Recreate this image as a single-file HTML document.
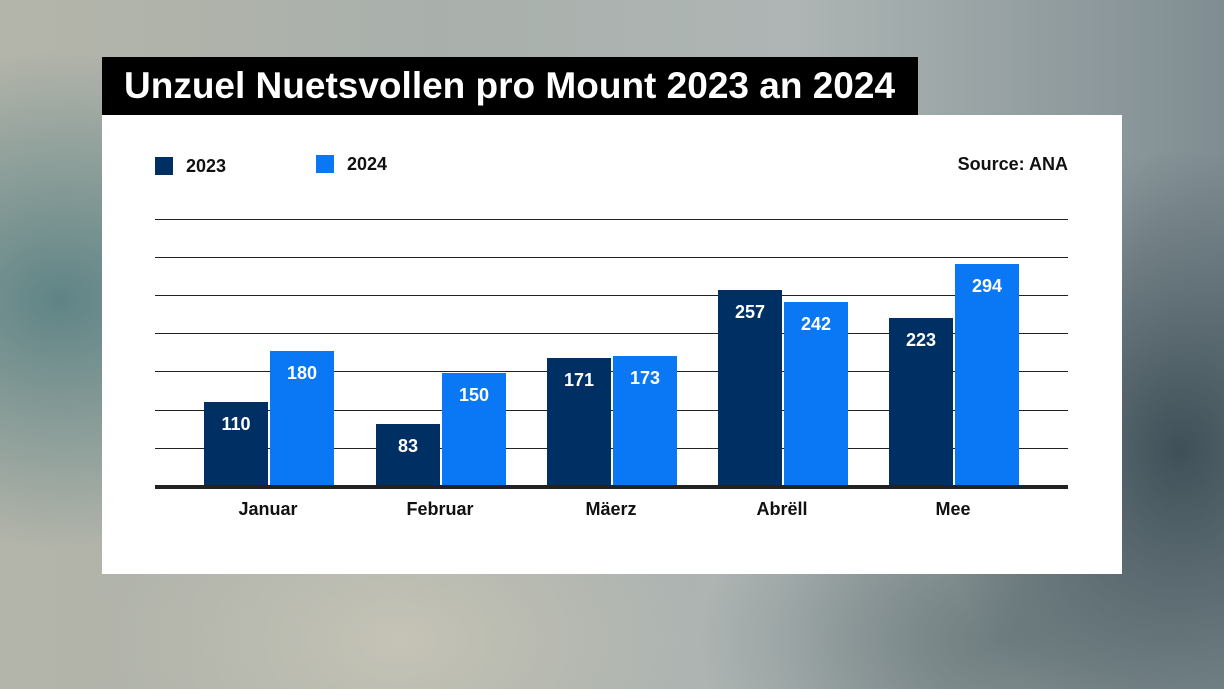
<!DOCTYPE html>
<html><head><meta charset="utf-8"><style>
html,body{margin:0;padding:0;}
body{width:1224px;height:689px;position:relative;overflow:hidden;font-family:"Liberation Sans",sans-serif;
background:
radial-gradient(ellipse 300px 250px at 60px 300px,#5f8486 0%,rgba(95,132,134,0) 100%),
radial-gradient(ellipse 250px 300px at 1180px 450px,#3f5058 0%,rgba(63,80,88,0) 100%),
radial-gradient(ellipse 300px 200px at 400px 640px,#c5c3b5 0%,rgba(197,195,181,0) 100%),
radial-gradient(ellipse 300px 200px at 1000px 640px,#6f7e80 0%,rgba(111,126,128,0) 100%),
linear-gradient(90deg,#b4b5aa 0%,#a9b0ab 35%,#aeb5b4 65%,#7f8d92 100%);}
.title{position:absolute;left:102px;top:57px;width:816px;height:58px;background:#000;color:#fff;font-weight:bold;font-size:37px;line-height:58px;box-sizing:border-box;padding-left:22px;white-space:nowrap;}
.panel{position:absolute;left:102px;top:115px;width:1020px;height:459px;background:#fff;}
.grid{position:absolute;left:155px;width:913px;height:1px;background:#222;}
.bar{position:absolute;bottom:202px;width:64px;color:#fff;font-weight:bold;font-size:18px;text-align:center;}
.bar span{position:absolute;left:0;right:0;top:12px;}
.d{background:#003063;}.l{background:#0a78f5;}
.cat{position:absolute;top:499px;width:130px;text-align:center;font-weight:bold;font-size:18px;color:#111;}
.txt{position:absolute;font-weight:bold;font-size:18px;color:#111;}
</style></head><body>
<div class="title">Unzuel Nuetsvollen pro Mount 2023 an 2024</div>
<div class="panel"></div>
<div style="position:absolute;left:155px;top:157px;width:18px;height:18px;background:#003063"></div>
<div class="txt" style="left:186px;top:156px">2023</div>
<div style="position:absolute;left:316px;top:155px;width:18px;height:18px;background:#0a78f5"></div>
<div class="txt" style="left:347px;top:154px">2024</div>
<div class="txt" style="right:156px;top:154px">Source: ANA</div>
<div class="grid" style="top:219px"></div>
<div class="grid" style="top:257px"></div>
<div class="grid" style="top:295px"></div>
<div class="grid" style="top:333px"></div>
<div class="grid" style="top:371px"></div>
<div class="grid" style="top:410px"></div>
<div class="grid" style="top:448px"></div>
<div class="bar d" style="left:204px;height:85px"><span>110</span></div>
<div class="bar l" style="left:270px;height:136px"><span>180</span></div>
<div class="bar d" style="left:376px;height:63px"><span>83</span></div>
<div class="bar l" style="left:442px;height:114px"><span>150</span></div>
<div class="bar d" style="left:547px;height:129px"><span>171</span></div>
<div class="bar l" style="left:613px;height:131px"><span>173</span></div>
<div class="bar d" style="left:718px;height:197px"><span>257</span></div>
<div class="bar l" style="left:784px;height:185px"><span>242</span></div>
<div class="bar d" style="left:889px;height:169px"><span>223</span></div>
<div class="bar l" style="left:955px;height:223px"><span>294</span></div>
<div style="position:absolute;left:155px;top:485px;width:913px;height:4px;background:#222"></div>
<div class="cat" style="left:203px">Januar</div>
<div class="cat" style="left:375px">Februar</div>
<div class="cat" style="left:546px">Mäerz</div>
<div class="cat" style="left:717px">Abrëll</div>
<div class="cat" style="left:888px">Mee</div>
</body></html>
